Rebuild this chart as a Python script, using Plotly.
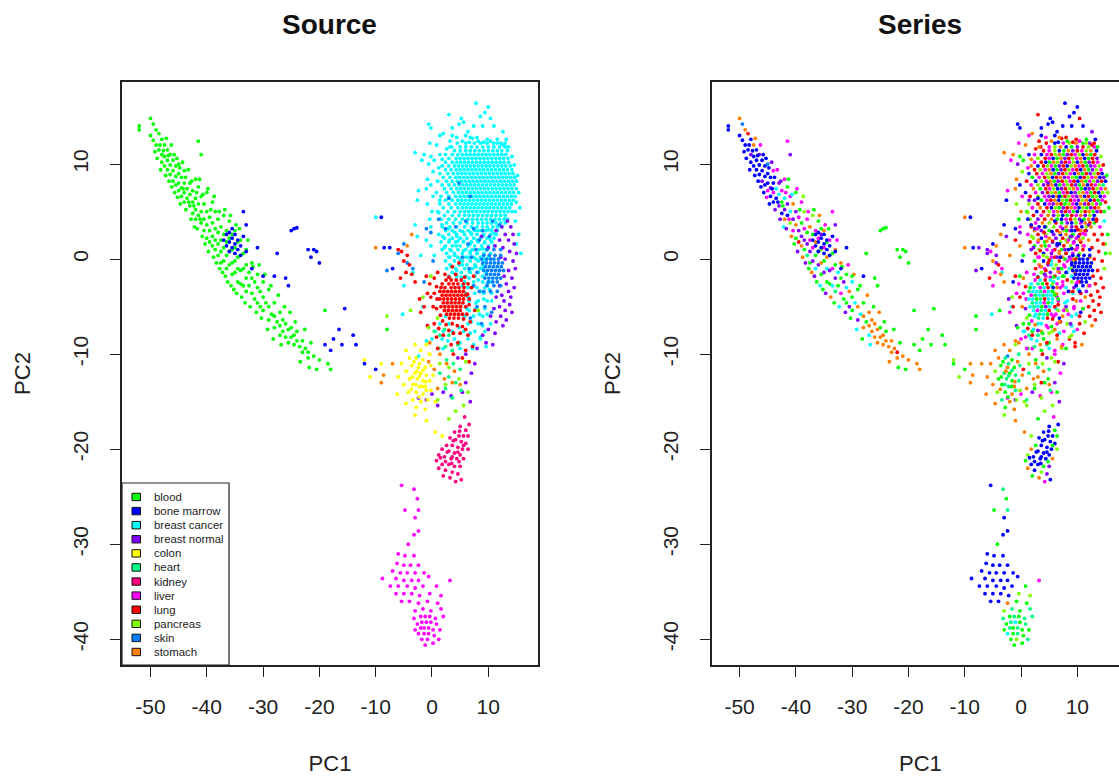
import plotly.graph_objects as go

tissues=["blood","bone marrow","breast cancer","breast normal","colon","heart","kidney","liver","lung","pancreas","skin","stomach"]
tissue_colors=["#00FF00","#0000FF","#00FFFF","#8000FF","#FFFF00","#00FF80","#FF0080","#FF00FF","#FF0000","#80FF00","#0080FF","#FF8000"]
series_colors=["#FF0000","#FF8000","#80FF00","#00FF00","#00FF80","#00FFFF","#0080FF","#0000FF","#8000FF","#FF00FF"]
x_ticks=[-50,-40,-30,-20,-10,0,10]
y_ticks=[-40,-30,-20,-10,0,10]

# (PC1, PC2, series id)
blood=[(-52,14,7),(-52,13.6,7),(-50,14.8,1),(-49.5,14.2,6),(-50,13,7),(-49,13.6,1),(-49.5,12.5,7),(-49,12,7),(-48.5,13.2,0),(-48.5,11.5,7),(-48,12.6,7),(-48,11,8),(-48,10.2,7),(-47.5,12,1),(-47.5,10.8,7),(-47.5,9.8,7),(-47,11.5,7),(-47,10.4,7),(-47,9.4,7),(-46.5,11,8),(-46.5,9.9,7),(-46.5,8.9,7),(-46,10.4,7),(-46,9.3,7),(-46,8.2,8),(-45.5,9.8,7),(-45.5,8.7,7),(-45.5,7.8,7),(-45,10,6),(-45,9,7),(-45,8,7),(-45,7.2,9),(-44.5,8.6,7),(-44.5,7.5,8),(-44.5,6.6,7),(-44,9.3,9),(-44,8,7),(-44,7,9),(-44,6,7),(-43.5,7.4,5),(-43.5,6.4,7),(-43,8,8),(-43,6.8,5),(-43,5.6,8),(-42.5,7.2,9),(-42.5,6,3),(-42.5,4.8,7),(-42,8.4,9),(-42,6.4,5),(-42,5.2,8),(-42,4.2,1),(-41.5,12.4,9),(-41.5,7.6,3),(-41.5,5.8,8),(-41.5,4.6,7),(-41,11,8),(-41,6.6,9),(-41,5,5),(-41,3.8,2),(-40.5,5.8,1),(-40.5,4.2,8),(-40.5,3,9),(-40,7,3),(-40,5,8),(-40,3.6,1),(-40,2.2,3),(-39.5,4.4,9),(-39.5,3,8),(-39.5,1.8,0),(-39,6,9),(-39,3.8,3),(-39,2.4,8),(-39,1.4,1),(-38.5,5,2),(-38.5,3.2,9),(-38.5,2,8),(-38.5,1,3),(-38,4.2,9),(-38,2.8,3),(-38,1.6,8),(-38,0.4,4),(-37.5,3.4,1),(-37.5,2,9),(-37.5,0.8,8),(-37.5,-0.4,3),(-37,4.6,2),(-37,2.6,3),(-37,1.2,9),(-37,-0.2,8),(-36.5,3,9),(-36.5,1.8,1),(-36.5,0.4,3),(-36.5,-1,5),(-36,4,3),(-36,2.2,9),(-36,0.8,3),(-36,-0.6,8),(-35.5,2.6,8),(-35.5,1,2),(-35.5,-0.4,1),(-35.5,-1.6,3),(-35,3,1),(-35,1.2,9),(-35,-0.2,3),(-35,-1.4,8),(-34.5,1.8,3),(-34.5,0.2,1),(-34.5,-1,5),(-34.5,-2.4,3),(-34,2,9),(-34,0.4,2),(-34,-1.2,8),(-34,-2.6,3),(-33.5,0.6,3),(-33.5,-1,9),(-33.5,-2.8,5),(-33,1,1),(-33,-0.6,3),(-33,-2,8),(-33,-3.4,4),(-32.5,-1.4,5),(-32.5,-2.8,3),(-32,-0.4,1),(-32,-2,3),(-32,-3.6,9),(-31.5,-2.4,8),(-31.5,-4.2,3),(-31,-1.6,3),(-31,-3,5),(-31,-4.6,3),(-30.5,-3.4,1),(-30.5,-5,8),(-30,-2.4,5),(-30,-4,3),(-30,-5.4,3),(-29.5,-4.6,5),(-29,-3.2,3),(-29,-5,1),(-29,-6.4,8),(-28.5,-5.8,5),(-28,-4.6,3),(-28,-6,1),(-28,-7.2,1),(-27.5,-6.6,3),(-27,-5.6,1),(-27,-7,1),(-27,-8,5),(-26.5,-6.4,1),(-26.5,-7.6,1),(-26,-6.8,1),(-26,-8.2,1),(-25.5,-7.4,1),(-25.5,-8.8,1),(-25,-7.2,3),(-25,-8.2,1),(-24.5,-8,1),(-24.5,-9,1),(-24,-7.6,3),(-24,-8.6,1),(-23.5,-9.2,1),(-23,-8.6,1),(-23,-9.8,1),(-22.5,-9.4,1),(-22,-9.8,0),(-22,-10.4,1),(-21.5,-8.8,3),(-21,-10.2,1),(-20.5,-11.6,3),(-20,-10.6,1),(-19,-5.4,3),(-18.5,-11,1),(-18,-11.6,1),(-8,-7.4,3)]
blood_extra=[(-49.2,11.3,7),(-48.8,10.6,7),(-48.3,12,7),(-48.2,9.4,7),(-47.7,11.4,7),(-47.3,8.8,7),(-47.2,12.7,1),(-46.8,10.9,7),(-46.7,8.2,7),(-46.3,12,9),(-46.2,7.6,7),(-45.8,11,7),(-45.7,7,7),(-45.3,10.6,7),(-45.2,6.5,9),(-44.8,9.6,7),(-44.7,5.8,7),(-44.3,10.2,8),(-44.2,7.4,7),(-43.8,8.6,7),(-43.7,5.2,8),(-43.3,9.4,9),(-43.2,6,7),(-42.8,4.2,8),(-42.7,8.2,8),(-42.3,5.6,3),(-42.2,3.4,5),(-41.8,7,9),(-41.7,3.2,8),(-41.3,8.4,3),(-41.2,4.2,9),(-40.8,2.4,1),(-40.7,6.8,5),(-40.3,1.6,3),(-39.8,7.4,9),(-39.7,0.8,8),(-39.3,5.2,3),(-38.8,0.2,1),(-38.7,6.6,2),(-38.3,-0.4,8),(-37.8,5,9),(-37.7,-1,3),(-37.2,-1.4,1),(-36.8,5.2,3),(-36.7,-1.8,8),(-36.3,-2.4,3),(-35.8,4.6,1),(-35.7,-2.8,5),(-35.2,-3.2,3),(-34.8,3.6,9),(-34.7,-3.6,8),(-34.2,3.2,3),(-33.8,-4,1),(-33.2,-4.6,3),(-32.7,2,9),(-32.3,-5,5),(-31.8,-0.8,3),(-31.2,-5.6,8),(-30.7,-0.6,9),(-30.3,-6.2,3),(-29.7,-1.6,1),(-29.2,-7.4,5),(-28.6,-2.8,3),(-28.2,-8.4,3),(-27.3,-3.8,1),(-26.8,-9,5),(-26.2,-5,3),(-25.2,-5.6,1),(-24.3,-6.6,3),(-23.4,-10.8,1),(-22.6,-7.4,3),(-21.8,-11.4,3)]
bone_marrow=[(-37,2,7),(-36.5,1.4,7),(-36.5,2.6,7),(-36,0.8,7),(-36,1.8,7),(-36,2.8,7),(-35.5,1.2,7),(-35.5,2.2,7),(-35.5,3.2,3),(-35,0.6,7),(-35,1.6,7),(-35,2.6,7),(-34.5,1,7),(-34.5,2,7),(-34,0.4,7),(-34,1.4,7),(-33.5,2.4,7),(-33.5,5,9),(-33,0.8,7),(-33,3.6,8),(-32,-1,7),(-31,1.2,7),(-30,-1.8,3),(-28,-1.8,7),(-27.5,0.6,3),(-26,-2,3),(-25.5,-2.8,3),(-25,3,3),(-24.5,3.2,3),(-24,3.3,3),(-22,1,3),(-21.5,0.2,3),(-21,1,3),(-20.5,0.8,3),(-20,-0.4,3),(-19,-9,3),(-18,-9.6,3),(-17.5,-8.4,3),(-16.5,-7.4,3),(-16,-9,3),(-15.5,-5.2,3),(-14,-8,3),(-13.5,-9,3),(-12,-11,3),(-10,-11.6,3),(-9,4.4,7),(-8.5,1.2,7),(-7.5,1.2,8),(-7,-1,7)]
cancer_rows=[
(12.2,[4.5,6,7.5,8.6,9.8,11,12.2,13],"07921380"),
(11.8,[3.5,5,6,7,8,9,10,11,12,13],"0921738029"),
(11.4,[4,5,6,6.8,7.6,8.4,9.2,10,10.8,11.6,12.4,13.4],"092731809217"),
(11,[3.6,4.6,5.4,6.1,6.8,7.5,8.2,8.9,9.6,10.3,11,11.7,12.4,13.1],"79021380927130"),
(10.6,[3,4.3,5,5.7,6.4,7.1,7.8,8.5,9.2,9.9,10.6,11.3,12,12.7,13.5],"209731802917308"),
(10.2,[2.4,3.6,4.4,5.1,5.8,6.5,7.2,7.9,8.6,9.3,10,10.7,11.4,12.1,12.8,13.6],"9073128092713809"),
(9.8,[1.8,3,4,4.7,5.4,6.1,6.8,7.5,8.2,8.9,9.6,10.3,11,11.7,12.4,13.1,13.9],"17029380721903892"),
(9.4,[2.4,3.4,4.3,5,5.7,6.4,7.1,7.8,8.5,9.2,9.9,10.6,11.3,12,12.7,13.4,14.2],"02917380290713829"),
(9,[1.4,2.8,3.8,4.6,5.3,6,6.7,7.4,8.1,8.8,9.5,10.2,10.9,11.6,12.3,13,13.7,14.4],"709213802971308207"),
(8.6,[2,3.2,4.2,4.9,5.6,6.3,7,7.7,8.4,9.1,9.8,10.5,11.2,11.9,12.6,13.3,14,14.7],"390270189237029178"),
(8.2,[1,2.6,3.6,4.5,5.2,5.9,6.6,7.3,8,8.7,9.4,10.1,10.8,11.5,12.2,12.9,13.6,14.3,15],"0729138029071392807"),
(7.8,[1.8,3,4,4.8,5.5,6.2,6.9,7.6,8.3,9,9.7,10.4,11.1,11.8,12.5,13.2,13.9,14.6],"928017392083170924"),
(7.4,[2.2,3.4,4.4,5.1,5.8,6.5,7.2,7.9,8.6,9.3,10,10.7,11.4,12.1,12.8,13.5,14.2,15],"130927802193780291"),
(7,[0.8,2.6,3.8,4.7,5.4,6.1,6.8,7.5,8.2,8.9,9.6,10.3,11,11.7,12.4,13.1,13.8,14.5],"798021390782193072"),
(6.6,[1.6,3,4.2,5,5.7,6.4,7.1,7.8,8.5,9.2,9.9,10.6,11.3,12,12.7,13.4,14.1,14.8],"029871302981703279"),
(6.2,[2.4,3.6,4.6,5.3,6,6.7,7.4,8.1,8.8,9.5,10.2,10.9,11.6,12.3,13,13.7,14.4],"83901723098217039"),
(5.8,[1.4,3,4.2,5,5.7,6.4,7.1,7.8,8.5,9.2,9.9,10.6,11.3,12,12.7,13.4,14.1],"20798103297180293"),
(5.4,[2,3.4,4.6,5.4,6.1,6.8,7.5,8.2,8.9,9.6,10.3,11,11.7,12.4,13.1,13.8],"9107238019723801"),
(5,[1,2.8,4,5,5.8,6.5,7.2,7.9,8.6,9.3,10,10.7,11.4,12.1,12.8,13.5,14.2],"37029180937201380"),
(4.6,[2.2,3.6,4.8,5.8,6.6,7.4,8.2,9,9.8,10.6,11.4,12.2,13],"0918273091827"),
(4.2,[1.6,3,4.2,5.4,6.4,7.2,8,8.8,9.6,10.4,11.2,12,12.8,13.4],"28013790283170"),
(3.8,[2.6,3.8,5,6.2,7.2,8.2,9,9.8,10.6,11.4,12.2,13],"912038729103"),
(3.4,[1.8,3.2,4.4,5.8,7,8,9,9.8,10.8,11.6,12.4],"07329180723"),
(3,[2.4,3.6,5,6.4,7.6,8.6,9.6,10.6,11.6],"183029718"),
(2.6,[1.2,3,4.4,5.8,7,8,9.2,10.4,11.4],"902871309"),
(2.2,[2.2,3.6,5,6.2,7.4,8.6,9.8,11],"27180392"),
(1.8,[1.6,3,4.2,5.6,7,8.2,9.4,10.6],"09372180"),
(1.4,[2.4,3.6,5,6.4,7.6,8.8,10,11],"31980271"),
(1,[1.8,3.2,4.6,6,7.2,8.4,9.6],"8290371"),
(0.6,[2.6,4,5.4,6.8,8,9.2,10.4],"0781392"),
(0.2,[3.2,4.6,6,7.4,8.6,10],"920183"),
(-0.2,[2.4,4,5.4,6.8,8.2,9.4],"375092"),
(-0.6,[3.2,4.8,6.2,7.6,9],"18297"),
(-1,[2.6,4.2,5.8,7.2,8.6],"09235"),
(-1.4,[3.6,5.2,6.8,8.2,9.6],"28951"),
(-1.8,[4.4,6,7.6,9],"9035"),
(-2.4,[5.8,7.4,9,10.4],"5920"),
(-3,[6.4,8,9.4],"158"),
(-3.6,[6,7.6,9.2,10.6],"2950"),
(-4.4,[6.6,8.2,9.8],"951"),
(-5.2,[6.2,7.8,9.4,11],"5290"),
(-6,[2.4,5.8,7.4,9],"5915"),
(-6.8,[1.4,3,6.4,8.2,10.4],"35920"),
(-7.6,[0.6,2,3.6,5.6,7.6,9.4],"531295"),
(-8.4,[0,1.8,4,6.4,8.6],"95310"),
(-9.4,[2,5,7.2],"952"),
]
cancer_fill=[(2.9,3.2,9),(4.1,2.8,0),(5.5,2.9,7),(6.9,2.8,1),(8.1,3,3),(9,2.4,8),(10.1,3.1,0),(11,2.7,9),(1.9,2.4,2),(3.1,2,1),(4.4,2.4,9),(5.6,1.9,0),(6.8,1.6,7),(8,2,2),(9.3,1.7,9),(10.4,2,1),(2.2,1.2,8),(3.4,0.9,0),(4.3,1.4,3),(5.6,0.9,9),(6.8,0.8,1),(8,0.6,0),(9,1.1,7),(3,0.2,9),(4,0.4,2),(5,-0.1,0),(6.4,0.2,8),(7.8,0,3),(9.2,0,1),(3.4,-0.8,9),(4.4,-1.2,0),(5.4,-0.6,5),(6.6,-1.3,1),(7.8,-0.8,9),(9,-1,2),(3,-1.8,5),(4.2,-1.6,3),(5.2,-1.9,9),(6.6,-2,5),(8.2,-2.2,0),(9.8,-2.6,9),(5.4,-2.8,5),(7,-3,2),(8.6,-3.4,1),(10.2,-3.2,5),(6.4,-4,9),(7.8,-4.6,5),(9.2,-4.2,0),(10.6,-4.4,9),(6.6,-5.4,2),(8.4,-5.8,9),(9.8,-5.8,5),(7,-6.6,0),(9,-7,5),(4.8,-7.2,9),(6.8,-7.8,5),(8.6,-8.2,2),(2.8,-8.6,5),(5,-8.8,3),(7.4,-9,9),(9.6,-9.2,0),(4.6,1.9,1),(1.4,6.2,8),(1.2,4.9,2),(1.8,3.6,7),(3.2,12.4,0),(4.4,12.8,9),(5.4,12.4,1),(6.6,12.3,7),(7.2,12.7,0),(8.2,12.4,3),(9.2,12.3,0),(10.4,12.4,9),(11.6,12.2,2),(12.6,12,0),(13.6,11.8,3),(14.2,10.8,2),(14.6,9.9,0),(2.4,11,9),(1.8,10.5,1),(15.2,8.8,3),(15.4,7,2),(15,6,0),(14.8,5,3)]
cancer_sparse=[(3,15.2,0),(9.4,15.4,7),(7.8,16.4,7),(10,16,7),(-0.6,14.2,7),(-0.2,13.8,7),(3.6,13.8,7),(5.2,14.8,7),(5.6,14.4,7),(4.8,14.2,7),(6.4,13.4,7),(6,13,7),(7.4,14,7),(8.6,15,7),(9,14,7),(10.4,14.8,0),(11,14,7),(3.6,13,7),(2,13.2,1),(-0.4,12.2,9),(0.8,12,1),(1.4,13,9),(6.8,12.8,1),(8,12.8,0),(9.8,12.6,0),(11.6,12.6,3),(12.6,13.4,8),(13.2,12.6,7),(-3,11.2,1),(-1.4,11,1),(-0.2,10.8,3),(1.4,11,7),(2.6,11.6,0),(3.2,11.8,1),(-1.8,10.4,9),(-0.6,10,8),(0.4,10.4,3),(1.2,9.6,9),(0.2,9.2,2),(-0.8,8.4,1),(-2.4,7.2,9),(-1,7.4,1),(-0.2,7.8,7),(0.2,6.6,9),(-2.6,6.2,7),(-0.8,5.8,2),(0,5,1),(-0.4,4.2,3),(-0.2,3.4,9),(-3,3.6,7),(-2.6,2.4,8),(-1,2,0),(-0.2,1.4,1),(0.4,0.4,3),(-2,0.4,1),(14.8,4,5),(15.6,5.4,3),(15.4,2.6,3),(15.8,0.6,2),(15,1.6,2),(-10,4.4,1),(-3.4,-1.4,5),(-5,-2.8,9),(-5.2,-5.8,5),(-1.6,-5,5),(-1,-8.6,1),(-2.4,-10.2,6)]
breast_normal=[(11.4,3,0),(12.4,3.4,1),(13.4,4,0),(14,3.4,9),(14.4,2.6,0),(13,2.6,0),(12,2,1),(13.6,2,0),(14.6,1.6,0),(11.2,1.4,9),(12.6,1.2,0),(13.8,0.8,0),(15,0.6,3),(14.4,-0.2,0),(13,0,0),(12.2,0.2,1),(14.8,-1,2),(13.6,-1.2,0),(12.8,-1.8,0),(14.2,-2,0),(13.2,-2.6,0),(12,-2.8,1),(14.6,-3,0),(13.6,-3.4,0),(12.4,-3.8,0),(14,-4,0),(11.4,-4,1),(12.8,-4.4,0),(13.8,-4.8,0),(12,-5,0),(13,-5.4,0),(14.2,-5.6,0),(11,-5.2,3),(12.2,-6,0),(13.2,-6.4,0),(10.4,-6,0),(11.4,-6.6,2),(12.6,-7,1),(10,-7.4,9),(11.2,-7.8,0),(9,-8,2),(9.6,-8.8,0),(8,-9.4,3),(10.8,-9,1),(6,-10,9),(7.6,-11,8),(4.6,-10.4,8),(5.4,-14,9),(3.4,-14.4,9),(6,-13,8),(2,-14,8),(7,-12,9),(0,-14.2,9),(6.8,-15,8),(-1,-14.8,8),(1,-15.4,2),(-2.4,-14.6,9),(8.8,2.4,8),(10,1.2,9)]
colon=[(-4.6,-9.6,1),(-3,-9,1),(-2,-9.6,1),(-1,-9,2),(-0.4,-10,4),(-4,-10.4,1),(-2.8,-10.4,4),(-1.6,-10.6,3),(-5.4,-11,1),(-3.6,-11.2,3),(-2.4,-11.4,1),(-1.2,-11.4,3),(-0.2,-11.2,4),(-4.6,-11.8,2),(-3,-12,4),(-2,-12,3),(-1,-12.2,4),(0.2,-12.2,1),(-6,-12.4,1),(-4,-12.6,3),(-2.6,-12.6,4),(-1.6,-12.8,3),(-0.4,-12.8,4),(-5,-13.2,1),(-3.4,-13.2,3),(-2.2,-13.4,4),(-1.2,-13.4,1),(-0.2,-13.8,2),(-4.2,-14,2),(-2.8,-14,3),(-1.6,-14.2,1),(-6.2,-14.2,1),(-3.4,-14.8,4),(-2,-15,1),(-0.8,-14.8,2),(-4.6,-15.2,1),(-2.8,-15.6,3),(-1.2,-15.8,1),(0.6,-15,2),(-3,-16.4,2),(-1,-17,1),(0.6,-18.2,1),(1.8,-18.6,2),(-12,-10.6,2),(-9,-11,1),(-11,-12.4,2),(-3.2,-10.8,3),(-2.2,-11,4),(-2.7,-11.8,1),(-1.6,-11.7,4),(-3.5,-12.4,3),(-2.2,-12.3,4),(-1.1,-12.9,1),(-2.9,-13.2,4),(-1.7,-13.4,3),(-3.7,-13.7,1),(-2.3,-14.5,3),(-1,-13.8,4)]
heart=[(0.4,-7.6,5),(1.4,-8,4),(2.2,-7.4,5),(3,-8,4),(1.2,-9.4,3),(2.4,-9.2,4),(3.6,-9.6,3),(4.6,-9,4),(2.6,-10.6,3),(3.8,-11,2),(5,-11.6,4),(1.4,-12,4),(3,-12.4,1),(4.2,-13,3),(2.4,-13.6,3),(5.2,-13.8,4),(3.6,-14.6,2)]
kidney=[(5.8,-16.6,9),(6.6,-17.4,7),(5,-17.6,7),(6,-18,3),(4,-18.2,7),(4.8,-18.6,7),(5.6,-18.6,7),(6.4,-18.6,3),(3.2,-18.8,7),(4.2,-19,7),(5.2,-19.2,7),(6,-19.4,7),(2.6,-19.6,3),(3.6,-19.6,7),(4.6,-19.8,7),(5.4,-20,7),(1.8,-20,1),(3,-20.2,7),(4,-20.4,7),(5,-20.6,7),(1.2,-20.6,2),(2.2,-20.8,7),(3.4,-21,7),(4.4,-21,7),(5.6,-21,1),(0.8,-21.2,3),(1.8,-21.6,7),(3,-21.6,7),(4,-21.8,3),(5,-21.8,8),(1.2,-22,1),(2.4,-22.2,7),(3.6,-22.4,2),(4.6,-22.6,8),(2,-22.8,3),(3.2,-23,1),(4.2,-23.4,9),(5.2,-23.2,7),(3.8,-19.1,7),(4.9,-18.1,7),(2.7,-20.3,7),(3.6,-20.8,7),(4.6,-20.3,7),(2.4,-21.3,7),(3.5,-21.5,7),(4.8,-21.3,3),(1.5,-20.9,7),(5.6,-19.6,3),(6.4,-20,2)]
liver=[(-5.4,-23.8,7),(-3.2,-24.2,4),(-2.6,-25.2,3),(-2.4,-26.4,4),(-4.8,-26.4,3),(-3,-27.2,7),(-2.4,-28.6,7),(-3.2,-29,7),(-4.2,-30,3),(-6,-31,7),(-4.8,-31.2,7),(-3.2,-31.2,7),(-6.2,-32,7),(-5,-32.2,7),(-3.8,-32.2,7),(-2.4,-32.2,7),(-7,-32.8,7),(-5.6,-33,7),(-4.4,-33,7),(-3,-33,7),(-1.4,-33,7),(-8.8,-33.6,7),(-6.4,-33.6,7),(-5,-33.8,7),(-3.6,-33.8,7),(-2.4,-33.8,7),(-0.6,-33.4,7),(3.2,-33.8,9),(-7.4,-34.4,7),(-6,-34.4,7),(-4.4,-34.4,7),(-3,-34.6,7),(-1.6,-34.4,7),(0.8,-34.4,3),(-6.4,-35.2,7),(-5,-35.2,7),(-3.6,-35.2,7),(-2.2,-35.4,7),(-0.4,-35.2,2),(1.6,-35.4,2),(-5.4,-36,7),(-4,-36,7),(-2.4,-36.2,1),(-0.8,-36,3),(1,-36.2,3),(-3,-37,2),(-1.6,-36.8,4),(-0.2,-37,3),(1.6,-36.8,4),(-3.2,-37.8,4),(-2,-37.6,3),(-1.2,-37.6,4),(-0.4,-37.6,3),(0.6,-37.8,4),(2,-37.6,4),(-2.6,-38.4,3),(-1.8,-38.2,4),(-1,-38.2,5),(-0.2,-38.2,3),(0.8,-38.4,4),(-3,-39,3),(-2,-38.8,4),(-1.4,-38.8,3),(-0.6,-38.8,4),(0.2,-39,3),(1.4,-39,3),(-2.4,-39.4,5),(-1.4,-39.4,3),(-0.6,-39.4,4),(0.4,-39.6,3),(-1.8,-40,3),(-0.8,-40,2),(0.2,-40.4,3),(-1.2,-40.6,3),(1.2,-40,4)]
lung_rows=[
(-2.2,[2.5,3.4,4.3,5.2],"9505"),
(-2.6,[1.8,3,3.8,4.6,5.6],"54302"),
(-3,[1.6,2.3,3.4,4.1,4.8,5.7],"359507"),
(-3.4,[1.4,2.1,2.8,3.5,4.2,4.9,5.6],"4554953"),
(-3.8,[1.8,2.5,3.2,3.9,4.6,5.3,6],"9454553"),
(-4.2,[1.4,2.1,2.8,3.5,4.2,4.9,5.6],"5534055"),
(-4.6,[2,2.7,3.4,4.1,4.8,5.5],"455935"),
(-5,[1.6,2.3,3,3.7,4.4,5.1],"545385"),
(-5.4,[2.2,2.9,3.6,4.3,5],"59450"),
(-5.8,[2.6,3.3,4,4.7,5.4],"54539"),
(-6.2,[3.1,3.9,4.7],"450"),
]
lung=[(-5,-0.2,1),(-5.4,0.8,9),(-6,1,8),(-4.4,0.4,8),(-4,-0.6,0),(-4.6,-1.4,9),(-3.6,-1.6,1),(-5.6,-2,0),(-3,-2.4,1),(-1,-1.8,0),(-0.4,-2.6,9),(0.4,-2,1),(-0.8,-3.6,9),(-0.2,-4,0),(-2.2,-4.2,8),(0.4,-3.6,9),(-1.4,-5,0),(0.2,-5,1),(-2,-5.6,9),(1,-1.4,9),(3.6,-0.8,1),(4.8,-0.4,0),(7.4,-1.8,3),(7,-3,9),(6.6,-4.8,0),(7.6,-5.4,9),(0.4,-6.8,3),(6.8,-6.6,1),(-0.8,-7,8),(0.8,-8.2,9),(2,-8,0),(3.8,-7.8,3),(5,-7.8,2),(6.4,-8,0),(1,-9.4,9),(3.4,-9,1),(4.6,-8.8,0),(6,-9.6,9),(7.2,-9.2,1),(3.8,-10,0),(5.4,-10.4,2),(6.6,-10.8,0),(2.3,-1.6,9),(3,-1.9,0),(4.2,-1.6,8),(5.8,-1.9,3),(6.4,-2.6,9),(0.8,-2.9,0),(0.9,-4.2,9),(6.3,-3.7,1),(6.6,-4.2,3),(0.8,-5.2,8),(6,-5,0),(6.2,-5.8,9),(1.5,-5.9,3),(1.9,-6.5,9),(5.6,-6.3,0),(2.5,-6.9,1),(3.6,-6.8,5),(4.5,-7,9),(5.4,-7.1,3),(1.2,-7.3,0),(3,-7.5,8),(6,-7.4,1)]
pancreas=[(-3.8,-5.4,3),(-1.6,-4,2),(1,-6.2,2),(-0.6,-7.2,3),(1.4,-11,2),(3,-11.4,4),(4.8,-12.6,3),(6,-10.8,2),(2.4,-13.2,2),(6.4,-14,3),(1,-14.8,4),(-8,-6,3),(-0.2,-1.8,3),(5.6,-15.4,2),(8.2,-5.4,2),(4.2,-16,2),(3,-16.8,3)]
skin_rows=[
(1,[9.8,11,12.2],"907"),
(0.4,[9.2,10.2,11.2,12.2],"7777"),
(0,[8.8,9.7,10.4,11,11.8],"90777"),
(-0.4,[9,9.7,10.4,11.1,11.8,12.5],"777777"),
(-0.8,[9.5,10.2,10.9,11.6,12.3],"77777"),
(-1.2,[9.2,9.9,10.6,11.3,12,12.7],"777777"),
(-1.6,[9.7,10.4,11.1,11.8],"7777"),
(-2,[9.4,10.1,10.8,11.5,12.2],"77777"),
(-2.4,[10,10.8,11.6],"977"),
(-2.8,[9.8,11,12.2],"779"),
(-3.4,[9.2,10.4,11.6],"078"),
]
skin=[(3,6.4,7),(4.8,8,8),(6.8,6.6,7),(1.2,4.2,7),(-1,3.2,7),(2.4,3.2,8),(-0.2,2.8,8),(4.2,3.4,7),(6,4,7),(7.4,3.2,8),(8.4,2,9),(6.4,1.6,7),(7.8,1,8),(9,3,7),(10.2,2.4,8),(5.4,0.2,9),(7,0.2,7),(6.6,-1,8),(8,-1.4,7),(7.4,-2.8,9),(8.4,-3.4,7),(8,-5,8),(6.8,-6.2,7),(9.4,-5,9),(10.6,-5.6,7),(8.8,-6.8,8),(-4.4,-0.4,8),(-3.4,-1,9),(-6,0.6,8),(-1.4,-2.4,7),(0.2,-0.2,7),(12,3.6,8),(10.8,4,7),(-8,-1.2,8),(-5,1.6,7)]
stomach=[(-0.4,-8.8,1),(1.4,-10,1),(-0.6,-10.8,1),(0.4,-11.6,0),(2.6,-11,1),(4,-11.8,1),(2.2,-12.6,1),(3.6,-13,0),(5,-13.2,1),(1,-13.6,1),(-9,-13,1),(-8.6,-12.2,1),(-7,-11,1),(-10,1.2,1),(-4.4,1.4,1),(-3.6,2.6,1)]

def expand_rows(rows):
    return [(x,y,int(s)) for y,xs,ss in rows for x,s in zip(xs,ss)]

points={"blood":blood+blood_extra,"bone marrow":bone_marrow,"breast cancer":expand_rows(cancer_rows)+cancer_fill+cancer_sparse,"breast normal":breast_normal,"colon":colon,"heart":heart,"kidney":kidney,"liver":liver,"lung":lung+expand_rows(lung_rows),"pancreas":pancreas,"skin":skin+expand_rows(skin_rows),"stomach":stomach}
draw_order=["breast cancer","breast normal","skin","heart","colon","stomach","lung","pancreas","kidney","liver","blood","bone marrow"]
tissue_color=dict(zip(tissues,tissue_colors))

W,H=1119,776
def fx(v): return v/W
def fy(v): return 1-v/H
fig=go.Figure()
for t in draw_order:
    p=points[t]
    fig.add_trace(go.Scatter(x=[a[0] for a in p],y=[a[1] for a in p],mode="markers",name=t,showlegend=False,
        marker=dict(size=3.8,color=tissue_color[t],line=dict(width=0))))
allp=[a for t in draw_order for a in points[t]]
fig.add_trace(go.Scatter(x=[a[0] for a in allp],y=[a[1] for a in allp],mode="markers",xaxis="x2",yaxis="y2",showlegend=False,
    marker=dict(size=3.8,color=[series_colors[a[2]] for a in allp],line=dict(width=0))))

tl=[str(v) for v in x_ticks]; yl=[str(v) for v in y_ticks]
FONT="Liberation Sans"; INK="#222222"
ax=dict(showgrid=False,zeroline=False,showline=True,linecolor=INK,linewidth=1.5,ticks="outside",ticklen=10,tickcolor=INK,tickwidth=1.2,
    tickfont=dict(family=FONT,size=21,color=INK),title_font=dict(family=FONT,size=22,color=INK))
shapes=[dict(type="rect",xref="paper",yref="paper",x0=fx(122),x1=fx(229),y0=fy(665),y1=fy(483),line=dict(color=INK,width=1.2),fillcolor="white",layer="above")]
ann=[dict(text="<b>Source</b>",x=fx(330),y=fy(25),xref="paper",yref="paper",xanchor="center",yanchor="middle",showarrow=False,font=dict(family=FONT,size=28,color="#111111")),
     dict(text="<b>Series</b>",x=fx(920),y=fy(25),xref="paper",yref="paper",xanchor="center",yanchor="middle",showarrow=False,font=dict(family=FONT,size=28,color="#111111")),
     dict(text="PC1",x=fx(920),y=fy(763),xref="paper",yref="paper",xanchor="center",yanchor="middle",showarrow=False,font=dict(family=FONT,size=22,color=INK))]
for i,(t,c) in enumerate(zip(tissues,tissue_colors)):
    cy=497+i*14.09
    shapes.append(dict(type="rect",xref="paper",yref="paper",x0=fx(132),x1=fx(140.5),y0=fy(cy+3.7),y1=fy(cy-3.7),fillcolor=c,line=dict(color="#111111",width=1),layer="above"))
    ann.append(dict(text=t,x=fx(152),y=fy(cy),xref="paper",yref="paper",xanchor="left",yanchor="middle",showarrow=False,font=dict(family=FONT,size=11.4,color=INK)))
fig.update_layout(width=W,height=H,margin=dict(l=0,r=0,t=0,b=0),paper_bgcolor="white",plot_bgcolor="white",showlegend=False,
 xaxis=dict(domain=[fx(122),fx(538)],range=[-55.06,18.83],tickvals=x_ticks,ticktext=tl,mirror=True,ticklabelstandoff=12,title=dict(text="PC1",standoff=40),**ax),
 yaxis=dict(domain=[fy(665),fy(82)],range=[-42.7,18.63],tickvals=y_ticks,ticktext=yl,tickangle=-90,mirror=True,ticklabelstandoff=14,title=dict(text="PC2",standoff=32),**ax),
 xaxis2=dict(domain=[fx(712),1],range=[-54.9,17.4],tickvals=x_ticks,ticktext=tl,mirror=True,anchor="y2",ticklabelstandoff=12,**ax),
 yaxis2=dict(domain=[fy(665),fy(82)],range=[-42.7,18.63],tickvals=y_ticks,ticktext=yl,tickangle=-90,anchor="x2",ticklabelstandoff=14,title=dict(text="PC2",standoff=32),**ax),
 annotations=ann,shapes=shapes)
fig.write_html("out.html",config=dict(displayModeBar=False),post_script="document.body.style.margin='0';document.documentElement.style.overflow='hidden';")
